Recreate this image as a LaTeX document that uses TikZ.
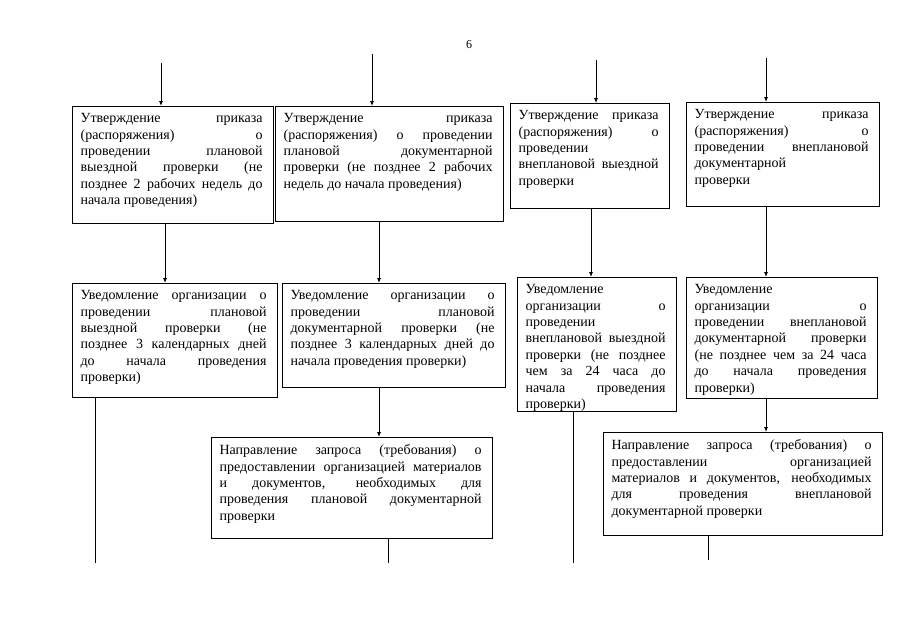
\documentclass[tikz,border=0pt]{standalone}
\usepackage{fontspec}
\setmainfont{Liberation Serif}
\usetikzlibrary{arrows.meta}
\newcommand{\bt}[3]{\hspace*{8pt}\begin{minipage}[c][#2pt][t]{#1pt}\fontsize{14}{16.4}\selectfont\vspace*{7pt}\tolerance=10000\hbadness=10000 #3\end{minipage}\hspace*{11pt}}
\tikzset{
  box/.style={draw, line width=1.2pt, inner sep=0pt, anchor=north west},
  arr/.style={line width=0.8pt, -{Latex[length=5pt,width=4pt]}},
  ln/.style={line width=0.8pt}
}
\begin{document}
\begin{tikzpicture}[x=1pt,y=-1pt]
\useasboundingbox (0,0) rectangle (905,640);
\node (pg) at (469,45) {\fontsize{12}{14}\selectfont 6};
% row 1
\node[box] (A1) at (72,106) {\bt{182}{117}{Утверждение приказа\linebreak (распоряжения) о\linebreak проведении плановой\linebreak выездной проверки (не\linebreak позднее 2 рабочих недель до\linebreak начала проведения)}};
\node[box] (B1) at (275,106) {\bt{209}{115}{Утверждение приказа\linebreak (распоряжения) о проведении\linebreak плановой документарной\linebreak проверки (не позднее 2 рабочих\linebreak недель до начала проведения)}};
\node[box] (C1) at (510,103) {\bt{140}{105}{Утверждение приказа\linebreak (распоряжения) о\linebreak проведении\newline внеплановой выездной\linebreak проверки}};
\node[box] (D1) at (686,102) {\bt{174}{104}{Утверждение приказа\linebreak (распоряжения) о\linebreak проведении внеплановой\linebreak документарной\newline проверки}};
% row 2
\node[box] (A2) at (72,283) {\bt{186}{114}{Уведомление организации о\linebreak проведении плановой\linebreak выездной проверки (не\linebreak позднее 3 календарных дней\linebreak до начала проведения\linebreak проверки)}};
\node[box] (B2) at (282,283) {\bt{204}{104}{Уведомление организации о\linebreak проведении плановой\linebreak документарной проверки (не\linebreak позднее 3 календарных дней до\linebreak начала проведения проверки)}};
\node[box] (C2) at (517,277) {\bt{140}{134}{Уведомление\newline организации о\linebreak проведении\newline внеплановой выездной\linebreak проверки (не позднее\linebreak чем за 24 часа до\linebreak начала проведения\linebreak проверки)}};
\node[box] (D2) at (686,277) {\bt{172}{121}{Уведомление\newline организации о\linebreak проведении внеплановой\linebreak документарной проверки\linebreak (не позднее чем за 24 часа\linebreak до начала проведения\linebreak проверки)}};
% row 3
\node[box] (B3) at (211,437) {\bt{262}{101}{Направление запроса (требования) о\linebreak предоставлении организацией материалов\linebreak и документов, необходимых для\linebreak проведения плановой документарной\linebreak проверки}};
\node[box] (D3) at (603,432) {\bt{260}{103}{Направление запроса (требования) о\linebreak предоставлении организацией\linebreak материалов и документов, необходимых\linebreak для проведения внеплановой\linebreak документарной проверки}};
% coordinates
\coordinate (ta) at (161,63);
\coordinate (tb) at (372,54);
\coordinate (tc) at (596,60);
\coordinate (td) at (766,58);
\coordinate (xa) at (165,0);
\coordinate (xb) at (379,0);
\coordinate (xc) at (591,0);
\coordinate (xd) at (766,0);
\coordinate (ea) at (95,563);
\coordinate (eb) at (388,563);
\coordinate (ec) at (573,563);
\coordinate (ed) at (708,560);
% connectors
\draw[arr] (ta) -- (ta |- A1.north);
\draw[arr] (tb) -- (tb |- B1.north);
\draw[arr] (tc) -- (tc |- C1.north);
\draw[arr] (td) -- (td |- D1.north);
\draw[arr] (A1.south -| xa) -- (A2.north -| xa);
\draw[arr] (B1.south -| xb) -- (B2.north -| xb);
\draw[arr] (C1.south -| xc) -- (C2.north -| xc);
\draw[arr] (D1.south -| xd) -- (D2.north -| xd);
\draw[arr] (B2.south -| xb) -- (B3.north -| xb);
\draw[arr] (D2.south -| xd) -- (D3.north -| xd);
\draw[ln] (A2.south -| ea) -- (ea);
\draw[ln] (B3.south -| eb) -- (eb);
\draw[ln] (C2.south -| ec) -- (ec);
\draw[ln] (D3.south -| ed) -- (ed);
\end{tikzpicture}
\end{document}
